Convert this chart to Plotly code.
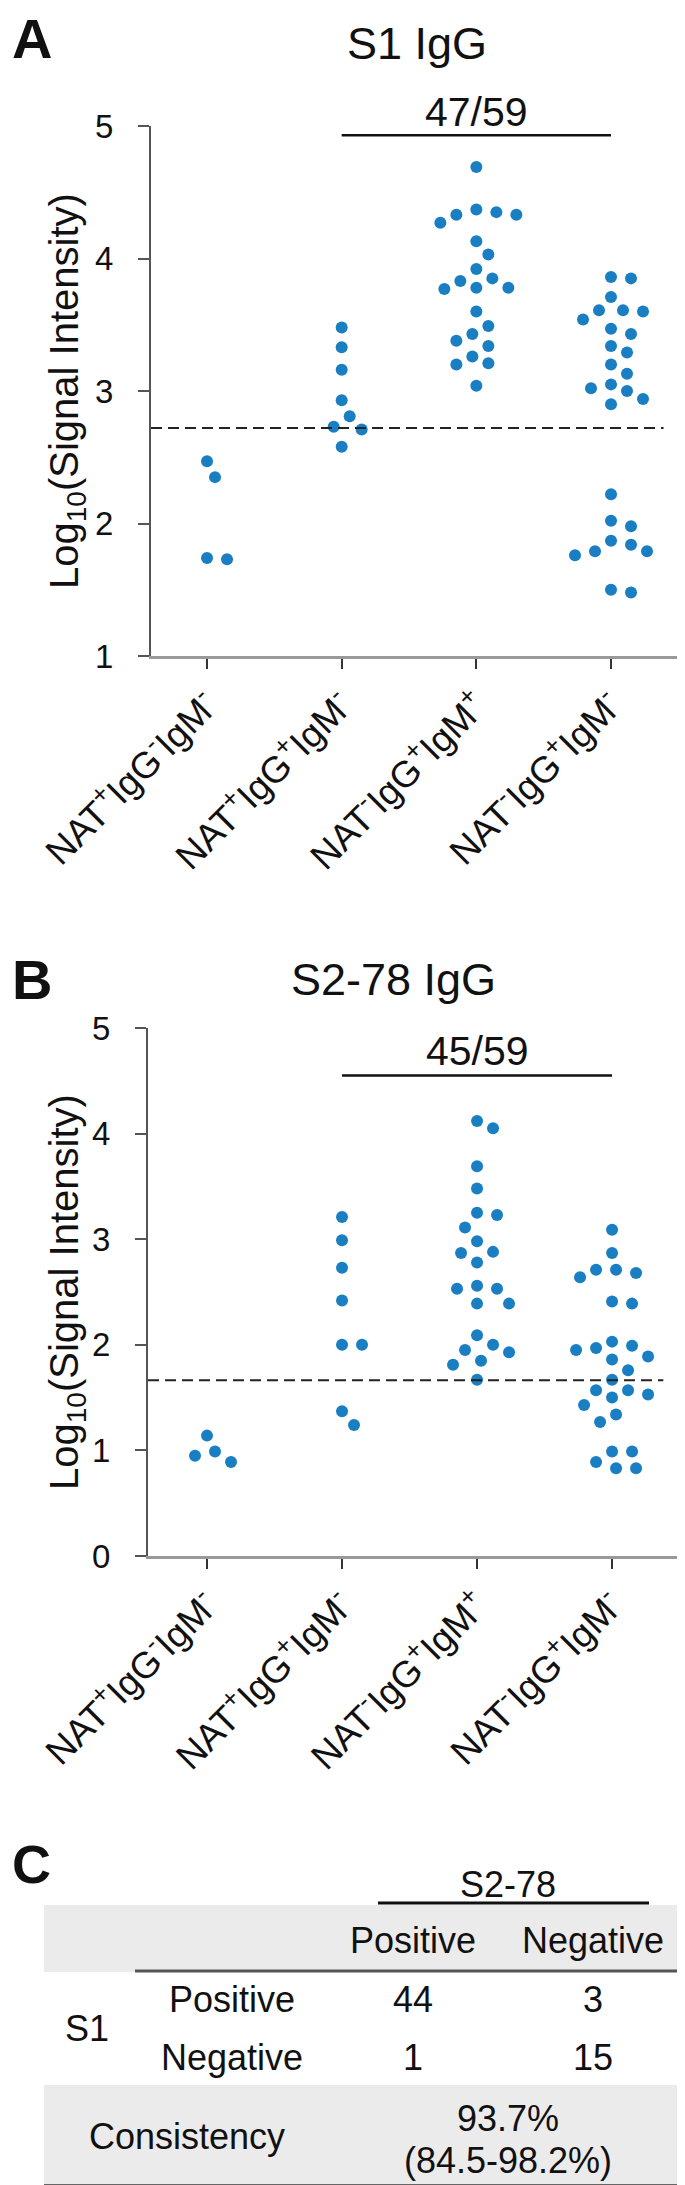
import plotly.graph_objects as go

W, H = 685, 2185
FONT = "Liberation Sans, Arial, sans-serif"
BLUE = "#1a7fc2"

# ---- data ----
categories = [
    "NAT<sup>+</sup>IgG<sup>-</sup>IgM<sup>-</sup>",
    "NAT<sup>+</sup>IgG<sup>+</sup>IgM<sup>-</sup>",
    "NAT<sup>-</sup>IgG<sup>+</sup>IgM<sup>+</sup>",
    "NAT<sup>-</sup>IgG<sup>+</sup>IgM<sup>-</sup>",
]

# S1 IgG, log10 signal intensity per group
s1_g1 = [2.47, 2.35, 1.73, 1.74]
s1_g2 = [3.48, 3.33, 3.16, 2.93, 2.81, 2.73, 2.71, 2.58]
s1_g3 = [4.69, 4.35, 4.33, 4.27, 4.33, 4.37, 4.13, 4.03, 3.92, 3.85, 3.78, 3.77,
         3.78, 3.83, 3.60, 3.49, 3.43, 3.34, 3.38, 3.21, 3.20, 3.26, 3.04]
s1_g4 = [3.85, 3.86, 3.71, 3.61, 3.54, 3.60, 3.61, 3.43, 3.47, 3.34, 3.20, 3.29,
         3.13, 3.00, 3.05, 3.02, 2.90, 2.94, 2.22, 1.98, 2.02, 1.84, 1.79, 1.76,
         1.79, 1.87, 1.48, 1.50]
s1_cutoff = 2.72
s1_ratio = "47/59"

# S2-78 IgG
s2_g1 = [0.99, 1.14, 0.89, 0.95]
s2_g2 = [3.21, 2.99, 2.73, 2.42, 2.00, 2.00, 1.37, 1.24]
s2_g3 = [4.12, 4.05, 3.69, 3.48, 3.25, 3.23, 3.11, 2.98, 2.87, 2.88, 2.78, 2.53,
         2.56, 2.53, 2.39, 2.39, 2.09, 2.00, 1.93, 1.95, 1.81, 1.85, 1.67]
s2_g4 = [3.09, 2.87, 2.71, 2.64, 2.68, 2.71, 2.41, 2.39, 1.99, 1.95, 1.97, 2.03,
         1.86, 1.89, 1.76, 1.67, 1.57, 1.57, 1.50, 1.53, 1.43, 1.34, 1.27, 0.99,
         0.99, 0.89, 0.83, 0.83]
s2_cutoff = 1.665
s2_ratio = "45/59"

# panel C table
tbl_cols = ["Positive", "Negative"]
tbl_rows = ["Positive", "Negative"]
tbl_counts = [[44, 3], [1, 15]]
consistency = "93.7%"
consistency_ci = "(84.5-98.2%)"


def px(x):
    return x / W


def py(y):
    return 1 - y / H


def swarm(vals, ppx, ppy, sep=17, step=4):
    # simple beeswarm: place each dot at the nearest free horizontal slot
    order = sorted(range(len(vals)), key=lambda i: -vals[i])
    placed = []
    offs = [0.0] * len(vals)
    cands = [0]
    for n in range(1, 40):
        cands += [n * step, -n * step]
    for i in order:
        y = vals[i] * ppy
        for c in cands:
            if all((c - ox) ** 2 + (y - oy) ** 2 >= sep ** 2 for ox, oy in placed):
                break
        placed.append((c, y))
        offs[i] = c / ppx
    return offs


fig = go.Figure()


def txt(x, y, t, size=36, xanchor="center", **kw):
    fig.add_annotation(xref="paper", yref="paper", x=px(x), y=py(y), text=t,
                       showarrow=False, xanchor=xanchor, yanchor="middle",
                       font=dict(size=size, color="#111"), **kw)


panels = [
    dict(groups=[s1_g1, s1_g2, s1_g3, s1_g4], cut=s1_cutoff, ratio=s1_ratio,
         xpx=(143, 676), ypx=(648, 118), xr=(-0.416, 3.542), yr=(1, 5),
         ticks=[1, 2, 3, 4, 5], bar_y=4.93, ratio_px=104, ax="", cut_end=3.39,
         title="S1 IgG", title_x=409, title_y=36, letter="A", letter_y=31),
    dict(groups=[s2_g1, s2_g2, s2_g3, s2_g4], cut=s2_cutoff, ratio=s2_ratio,
         xpx=(140, 669), ypx=(1548, 1020), xr=(-0.437, 3.481), yr=(0, 5),
         ticks=[0, 1, 2, 3, 4, 5], bar_y=4.55, ratio_px=1043, ax="2", cut_end=3.38,
         title="S2-78 IgG", title_x=385, title_y=972, letter="B", letter_y=972),
]

for p in panels:
    ppx = (p["xpx"][1] - p["xpx"][0]) / (p["xr"][1] - p["xr"][0])
    ppy = (p["ypx"][0] - p["ypx"][1]) / (p["yr"][1] - p["yr"][0])
    xs, ys = [], []
    for ci, vals in enumerate(p["groups"]):
        offs = swarm(vals, ppx, ppy)
        xs += [ci + o for o in offs]
        ys += vals
    xa, ya = "x" + p["ax"], "y" + p["ax"]
    fig.add_trace(go.Scatter(x=xs, y=ys, mode="markers", xaxis=xa, yaxis=ya,
                             marker=dict(size=12, color=BLUE), showlegend=False,
                             cliponaxis=False))
    # cut-off line
    fig.add_shape(type="line", xref=xa, yref=ya, x0=p["xr"][0], x1=p["cut_end"],
                  y0=p["cut"], y1=p["cut"], line=dict(color="#222", width=2, dash="11px,6px"))
    # bracket + ratio
    fig.add_shape(type="line", xref=xa, yref=ya, x0=1, x1=3, y0=p["bar_y"], y1=p["bar_y"],
                  line=dict(color="#111", width=2.5))
    mid_x = p["xpx"][0] + (2 - p["xr"][0]) * ppx
    txt(mid_x, p["ratio_px"], p["ratio"], size=41)
    # title, panel letter, y title
    txt(p["title_x"], p["title_y"], p["title"], size=45)
    txt(2, p["letter_y"], "<b>%s</b>" % p["letter"], size=56, xanchor="left")
    txt(59, (p["ypx"][0] + p["ypx"][1]) / 2, "Log<sub>10</sub>(Signal Intensity)",
        size=40, textangle=-90)

    fig.update_layout(**{
        "xaxis" + p["ax"]: dict(
            domain=[px(p["xpx"][0]), px(p["xpx"][1])], range=list(p["xr"]),
            anchor=ya, showline=True, linecolor="#999", linewidth=3,
            ticks="outside", ticklen=10, tickwidth=2, tickcolor="#333",
            tickvals=[0, 1, 2, 3], ticktext=categories, tickangle=-45,
            tickfont=dict(size=37, color="#111"), showgrid=False, zeroline=False,
            automargin=False),
        "yaxis" + p["ax"]: dict(
            domain=[py(p["ypx"][0]), py(p["ypx"][1])], range=list(p["yr"]),
            anchor=xa, showline=True, linecolor="#555", linewidth=2,
            ticks="outside", ticklen=11, tickwidth=2, tickcolor="#555",
            tickvals=p["ticks"], tickfont=dict(size=33, color="#111"),
            ticklabelstandoff=18, showgrid=False, zeroline=False,
            automargin=False),
    })

# ---- panel C: table ----
shapes = [
    dict(type="rect", x0=px(36), x1=px(681), y0=py(1897), y1=py(1964),
         fillcolor="#ebebeb", line=dict(width=0), layer="below"),
    dict(type="rect", x0=px(36), x1=px(681), y0=py(2077), y1=py(2177),
         fillcolor="#ebebeb", line=dict(width=0), layer="below"),
    dict(type="line", x0=px(370), x1=px(641), y0=py(1895), y1=py(1895),
         line=dict(color="#111", width=3)),
    dict(type="line", x0=px(127), x1=px(681), y0=py(1963), y1=py(1963),
         line=dict(color="#555", width=3)),
    dict(type="line", x0=px(36), x1=px(681), y0=py(2178), y1=py(2178),
         line=dict(color="#666", width=4)),
]
for s in shapes:
    s.update(xref="paper", yref="paper")
    fig.add_shape(**s)

col_x = [405, 585]
row_y = [1991, 2049]

txt(2, 1856, "<b>C</b>", size=54, xanchor="left")
txt(500, 1876, "S2-78")
for cx, c in zip(col_x, tbl_cols):
    txt(cx, 1932, c)
for ry, r, counts in zip(row_y, tbl_rows, tbl_counts):
    txt(224, ry, r)
    for cx, v in zip(col_x, counts):
        txt(cx, ry, str(v))
txt(79, 2020, "S1")
txt(179, 2128, "Consistency")
txt(500, 2110, consistency)
txt(500, 2152, consistency_ci)

fig.update_layout(width=W, height=H, margin=dict(l=0, r=0, t=0, b=0),
                  plot_bgcolor="white", paper_bgcolor="white",
                  font=dict(family=FONT, color="#111"))

fig.write_html("out.html")
